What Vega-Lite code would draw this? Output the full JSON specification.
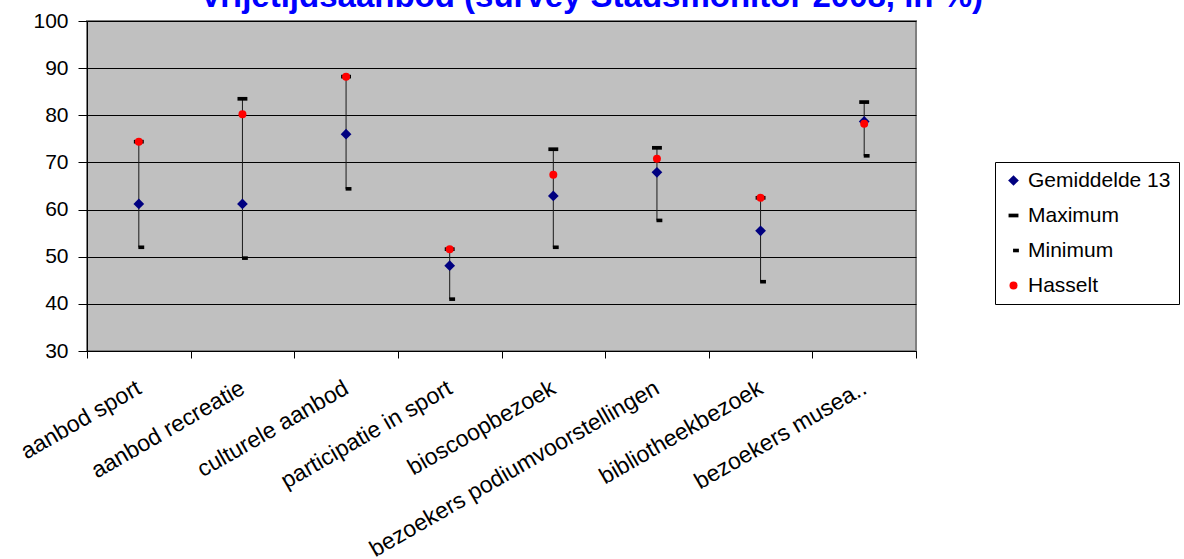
{
  "$schema": "https://vega.github.io/schema/vega-lite/v6.json",
  "autosize": {"type": "none"},
  "padding": {"left": 87, "top": 21, "right": 268, "bottom": 208},
  "width": 829,
  "height": 330,
  "background": "white",
  "title": {
    "text": "Vrijetijdsaanbod (survey Stadsmonitor 2008, in %)",
    "font": "Liberation Sans",
    "fontSize": 33,
    "fontWeight": "bold",
    "color": "#0000FF",
    "anchor": "middle",
    "dx": 90,
    "baseline": "alphabetic",
    "offset": 0,
    "dy": 30
  },
  "config": {
    "font": "Liberation Sans",
    "view": {"fill": "#C0C0C0", "stroke": "#808080", "strokeWidth": 2}
  },
  "data": {
    "values": [
      {"categorie": "aanbod sport", "Gemiddelde 13": 61.2, "Maximum": 74.4, "Minimum": 52.0, "Hasselt": 74.4},
      {"categorie": "aanbod recreatie", "Gemiddelde 13": 61.2, "Maximum": 83.5, "Minimum": 49.7, "Hasselt": 80.2},
      {"categorie": "culturele aanbod", "Gemiddelde 13": 76.0, "Maximum": 88.2, "Minimum": 64.4, "Hasselt": 88.2},
      {"categorie": "participatie in sport", "Gemiddelde 13": 48.1, "Maximum": 51.6, "Minimum": 41.0, "Hasselt": 51.6},
      {"categorie": "bioscoopbezoek", "Gemiddelde 13": 62.9, "Maximum": 72.8, "Minimum": 52.0, "Hasselt": 67.4},
      {"categorie": "bezoekers podiumvoorstellingen", "Gemiddelde 13": 67.9, "Maximum": 73.1, "Minimum": 57.7, "Hasselt": 70.8},
      {"categorie": "bibliotheekbezoek", "Gemiddelde 13": 55.5, "Maximum": 62.5, "Minimum": 44.7, "Hasselt": 62.5},
      {"categorie": "bezoekers musea..", "Gemiddelde 13": 78.7, "Maximum": 82.8, "Minimum": 71.4, "Hasselt": 78.2}
    ]
  },
  "encoding": {
    "x": {
      "field": "categorie",
      "type": "nominal",
      "sort": null,
      "scale": {"paddingInner": 0, "paddingOuter": 0},
      "axis": {
        "title": null,
        "labelAngle": -30,
        "labelAlign": "right",
        "labelBaseline": "middle",
        "labelFontSize": 23,
        "labelColor": "black",
        "labelPadding": 28,
        "labelLimit": 0,
        "tickBand": "extent",
        "tickSize": 7,
        "tickColor": "black",
        "domainColor": "black",
        "grid": false
      }
    }
  },
  "layer": [
    {
      "mark": {"type": "rule", "color": "#1a1a1a", "strokeWidth": 1},
      "encoding": {
        "y": {
          "field": "Minimum",
          "type": "quantitative",
          "scale": {"domain": [30, 100], "nice": false},
          "axis": {
            "title": null,
            "values": [30, 40, 50, 60, 70, 80, 90, 100],
            "labelFontSize": 21,
            "labelColor": "black",
            "labelPadding": 10,
            "tickSize": 9,
            "tickColor": "black",
            "domainColor": "black",
            "grid": true,
            "gridColor": "black",
            "gridOpacity": 1,
            "gridWidth": 1
          }
        },
        "y2": {"field": "Maximum"}
      }
    },
    {
      "transform": [
        {"fold": ["Gemiddelde 13", "Maximum", "Minimum", "Hasselt"], "as": ["reeks", "waarde"]}
      ],
      "mark": {"type": "point", "filled": true, "opacity": 1, "strokeWidth": 0},
      "encoding": {
        "y": {"field": "waarde", "type": "quantitative"},
        "color": {
          "field": "reeks",
          "type": "nominal",
          "scale": {
            "domain": ["Gemiddelde 13", "Maximum", "Minimum", "Hasselt"],
            "range": ["#000080", "#000000", "#000000", "#FF0000"]
          },
          "legend": {
            "title": null,
            "orient": "none",
            "legendX": 908,
            "legendY": 141,
            "direction": "vertical",
            "labelFontSize": 21,
            "labelColor": "black",
            "strokeColor": "black",
            "fillColor": "white",
            "padding": 8,
            "rowPadding": 13,
            "labelOffset": 4,
            "symbolStrokeWidth": 0
          }
        },
        "shape": {
          "field": "reeks",
          "type": "nominal",
          "scale": {
            "domain": ["Gemiddelde 13", "Maximum", "Minimum", "Hasselt"],
            "range": ["diamond", "M-1,-0.375L1,-0.375L1,0.375L-1,0.375Z", "M-0.1,-0.4L1.2,-0.4L1.2,0.4L-0.1,0.4Z", "circle"]
          }
        },
        "size": {
          "field": "reeks",
          "type": "nominal",
          "scale": {
            "domain": ["Gemiddelde 13", "Maximum", "Minimum", "Hasselt"],
            "range": [115, 64, 64, 100]
          }
        }
      }
    }
  ]
}
